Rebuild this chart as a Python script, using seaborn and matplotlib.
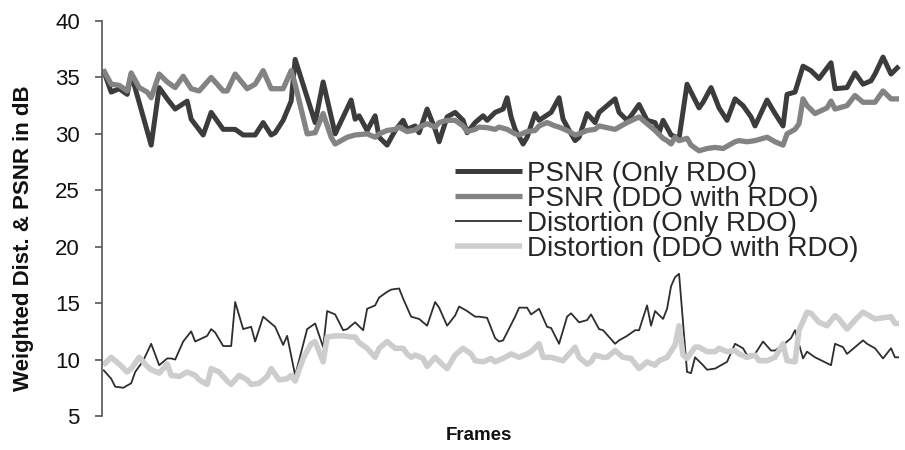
import matplotlib
matplotlib.use("Agg")
import matplotlib.pyplot as plt
import seaborn as sns

# ---------------- data (frame index, value) ----------------
frames_psnr_rdo = [0, 2, 4, 6, 7, 12, 14, 16, 18, 21, 22, 25, 27, 30, 33, 35, 38, 40, 42, 43,
                   45, 47, 48, 53, 55, 58, 62, 63, 64, 66, 68, 69, 71, 73, 75, 76, 78, 79, 81, 83,
                   84, 86, 88, 90, 91, 93, 95, 96, 98, 100, 101, 102, 103, 105, 106, 108, 109, 112, 114, 115,
                   117, 118, 119, 121, 123, 124, 128, 129, 131, 132, 134, 136, 138, 139, 140, 142, 144, 146, 149, 150,
                   152, 154, 156, 158, 160, 162, 163, 166, 168, 170, 171, 173, 175, 177, 179, 182, 183, 186, 188, 190,
                   192, 193, 195, 197, 199]
psnr_rdo = [35.7, 33.7, 34.0, 33.5, 35.3, 29.0, 34.1, 33.1, 32.2, 32.9, 31.3, 29.9, 31.9, 30.4, 30.4, 29.9, 29.9, 31.0, 29.9, 30.1,
            31.2, 32.9, 36.6, 31.0, 34.6, 30.0, 33.0, 31.3, 31.6, 30.3, 31.6, 29.7, 29.0, 30.3, 31.2, 30.4, 30.7, 30.1, 32.2, 30.4,
            29.3, 31.5, 31.9, 31.2, 30.1, 31.0, 31.6, 31.2, 31.9, 32.2, 33.2, 31.5, 30.4, 29.1, 29.7, 31.8, 31.2, 31.9, 33.2, 31.3,
            30.0, 29.4, 29.7, 31.8, 31.0, 31.9, 33.1, 31.9, 31.2, 31.6, 32.6, 31.2, 31.0, 30.1, 31.2, 29.9, 29.6, 34.4, 32.3, 32.8,
            34.1, 32.3, 31.2, 33.1, 32.5, 31.5, 30.7, 33.0, 31.8, 30.7, 33.5, 33.7, 36.0, 35.6, 34.9, 36.3, 34.0, 34.1, 35.4, 34.4,
            34.7, 35.3, 36.8, 35.3, 36.0]

frames_psnr_ddo = [0, 2, 4, 6, 7, 9, 11, 12, 14, 16, 18, 20, 22, 24, 27, 30, 31, 33, 36, 38,
                   40, 42, 45, 47, 48, 51, 53, 55, 57, 58, 61, 63, 66, 68, 69, 71, 73, 74, 76, 78,
                   79, 81, 83, 84, 86, 88, 90, 91, 93, 94, 96, 98, 99, 101, 103, 104, 106, 108, 109, 111,
                   113, 114, 116, 118, 119, 121, 123, 124, 128, 131, 134, 136, 138, 140, 141, 142, 143, 144, 146, 147,
                   149, 151, 153, 155, 158, 159, 161, 163, 166, 168, 170, 171, 173, 174, 175, 176, 178, 181, 182, 183,
                   186, 188, 190, 193, 195, 197, 199]
psnr_ddo = [35.7, 34.4, 34.3, 33.8, 35.4, 34.1, 33.7, 33.2, 35.3, 34.6, 34.1, 35.1, 34.0, 33.8, 35.0, 33.8, 33.8, 35.3, 34.0, 34.4,
            35.6, 34.0, 34.0, 35.6, 34.4, 30.0, 30.1, 31.8, 29.7, 29.1, 29.7, 29.9, 30.0, 29.7, 30.0, 30.3, 30.4, 30.6, 30.2, 30.35,
            30.6, 30.9, 30.6, 31.0, 31.2, 31.2, 30.7, 30.2, 30.4, 30.6, 30.55, 30.4, 30.6, 30.4, 30.0, 29.9, 30.2, 30.3, 30.7, 31.0,
            30.7, 30.6, 30.3, 29.9, 30.0, 30.3, 30.4, 30.7, 30.4, 31.0, 31.5, 30.9, 30.3, 29.6, 29.4, 29.1, 29.7, 29.4, 29.6, 29.0,
            28.5, 28.7, 28.8, 28.7, 29.3, 29.4, 29.3, 29.4, 29.7, 29.3, 29.0, 30.0, 30.4, 30.9, 33.1, 32.5, 31.8, 32.3, 32.9, 32.2,
            32.5, 33.4, 32.8, 32.8, 33.8, 33.1, 33.1]

frames_dist_rdo = [0, 2, 3, 5, 7, 8, 10, 12, 14, 16, 17, 18, 20, 22, 23, 26, 27, 28, 30, 32,
                   33, 35, 37, 38, 40, 42, 43, 45, 46, 48, 51, 53, 55, 56, 58, 60, 61, 63, 65, 66,
                   68, 69, 71, 72, 74, 75, 77, 79, 81, 83, 84, 86, 88, 89, 91, 93, 94, 96, 98, 99,
                   100, 101, 103, 104, 106, 107, 109, 111, 112, 114, 116, 117, 119, 121, 122, 124, 125, 128, 129, 131,
                   133, 134, 136, 137, 138, 140, 141, 142, 143, 144, 146, 147, 148, 150, 151, 153, 155, 156, 158, 160,
                   161, 163, 165, 167, 168, 170, 172, 173, 175, 176, 178, 182, 183, 185, 186, 188, 190, 191, 193, 195,
                   197, 198, 199]
dist_rdo = [9.1, 8.3, 7.6, 7.5, 7.9, 8.9, 9.9, 11.4, 9.5, 10.1, 10.1, 10.0, 11.6, 12.5, 11.6, 12.1, 12.7, 12.4, 11.2, 11.2,
            15.1, 12.7, 12.9, 11.6, 13.8, 13.2, 12.9, 11.3, 12.1, 8.6, 12.7, 13.2, 11.1, 14.3, 14.0, 12.6, 12.7, 13.3, 12.6, 14.5,
            14.8, 15.5, 16.0, 16.2, 16.3, 15.4, 13.8, 13.6, 13.0, 15.1, 14.6, 13.0, 13.9, 14.7, 14.3, 13.8, 13.8, 13.7, 11.9, 11.6,
            11.7, 12.4, 13.8, 14.6, 14.6, 14.0, 14.5, 12.9, 12.8, 11.4, 13.8, 14.1, 13.3, 13.5, 14.0, 12.7, 12.6, 11.4, 11.7, 12.1,
            12.6, 12.6, 14.8, 13.0, 14.3, 13.6, 14.5, 16.5, 17.3, 17.6, 8.9, 8.8, 10.2, 9.5, 9.1, 9.2, 9.6, 9.8, 11.4, 11.0,
            10.4, 10.5, 11.6, 10.8, 10.8, 11.3, 11.9, 12.6, 10.1, 10.7, 10.2, 9.5, 11.4, 11.1, 10.5, 11.1, 11.7, 11.4, 11.0, 10.1,
            11.0, 10.2, 10.2]

frames_dist_ddo = [0, 2, 4, 6, 7, 9, 11, 12, 14, 16, 17, 19, 21, 23, 24, 26, 27, 29, 31, 32,
                   34, 36, 37, 39, 41, 42, 44, 46, 47, 48, 50, 52, 53, 55, 56, 58, 60, 62, 63, 64,
                   66, 68, 69, 71, 73, 75, 76, 77, 78, 80, 81, 83, 85, 86, 88, 90, 92, 93, 95, 97,
                   98, 100, 102, 104, 106, 107, 109, 110, 112, 113, 115, 118, 119, 121, 122, 123, 125, 126, 128, 130,
                   132, 134, 136, 138, 139, 141, 143, 144, 145, 146, 148, 149, 151, 153, 154, 156, 158, 159, 161, 163,
                   164, 166, 168, 170, 171, 173, 174, 176, 177, 179, 181, 183, 184, 186, 188, 190, 192, 193, 197, 198,
                   199]
dist_ddo = [9.5, 10.2, 9.6, 8.9, 9.2, 10.2, 9.4, 9.1, 8.8, 9.6, 8.6, 8.5, 8.9, 8.6, 8.2, 7.8, 9.2, 8.9, 8.1, 7.8,
            8.6, 8.2, 7.8, 7.9, 8.5, 9.2, 8.2, 8.3, 8.6, 8.1, 10.1, 11.4, 11.6, 9.8, 12.0, 12.1, 12.1, 12.0, 12.0, 11.5,
            11.0, 10.2, 11.0, 11.6, 11.0, 11.0, 10.5, 10.2, 10.4, 10.1, 9.4, 10.2, 9.5, 9.2, 10.4, 11.0, 10.5, 9.9, 9.8, 10.1,
            9.8, 10.1, 10.5, 10.2, 10.5, 10.7, 11.4, 10.2, 10.2, 10.1, 9.9, 11.1, 10.2, 9.6, 9.8, 10.4, 10.2, 10.2, 10.8, 10.2,
            10.1, 9.2, 9.8, 9.5, 9.9, 10.2, 11.3, 13.0, 10.4, 10.1, 11.1, 11.1, 10.7, 10.7, 11.0, 10.7, 10.8, 10.5, 10.2, 10.4,
            9.9, 9.9, 10.2, 11.4, 9.9, 9.8, 12.6, 14.2, 14.1, 13.3, 13.0, 13.9, 13.6, 12.7, 13.5, 14.2, 13.8, 13.6, 13.8, 13.2,
            13.2]

series_labels = ["PSNR (Only RDO)", "PSNR (DDO with RDO)",
                 "Distortion (Only RDO)", "Distortion (DDO with RDO)"]
y_ticks = [5, 10, 15, 20, 25, 30, 35, 40]

# ---------------- style ----------------
sns.set_style("ticks")
plt.rcParams["font.family"] = ["Liberation Sans", "DejaVu Sans"]

fig = plt.figure(figsize=(9.05, 4.5), dpi=100)
ax = fig.add_axes([102 / 905, 34 / 450, 803 / 905, 395 / 450])

styles = [("#3c3c3c", 3.6), ("#838383", 3.8), ("#2e2e2e", 1.3), ("#cdcdcd", 4.0)]
data = [(frames_psnr_rdo, psnr_rdo), (frames_psnr_ddo, psnr_ddo),
        (frames_dist_rdo, dist_rdo), (frames_dist_ddo, dist_ddo)]

for (fr, vals), lab, (col, lw) in zip(data, series_labels, styles):
    sns.lineplot(x=fr, y=vals, ax=ax, color=col, linewidth=lw, label=lab,
                 solid_joinstyle="round", solid_capstyle="butt")

ax.set_xlim(-0.3, 200.5)
ax.set_ylim(5, 40)
ax.set_yticks(y_ticks)
ax.set_yticklabels([str(t) for t in y_ticks])

for s in ["top", "right", "bottom"]:
    ax.spines[s].set_visible(False)
ax.spines["left"].set_color("#555555")
ax.spines["left"].set_linewidth(1.2)
ax.tick_params(axis="y", length=5, width=1.2, color="#555555", labelsize=16, pad=11,
               labelcolor="#111111")
ax.tick_params(axis="x", bottom=False, labelbottom=False)

ax.set_ylabel("Weighted Dist. & PSNR in dB", fontsize=16, fontweight="bold", color="#111111")
ax.yaxis.set_label_coords(-0.085, 0.45)
ax.set_xlabel("Frames", fontsize=13.5, fontweight="bold", color="#111111")
ax.xaxis.set_label_coords(0.469, -0.028)

handles, labels = ax.get_legend_handles_labels()
ax.legend(handles, labels, loc="upper left",
          bbox_to_anchor=(455 / 905, 1 - 161 / 450), bbox_transform=fig.transFigure,
          frameon=False, fontsize=20, handlelength=2.4, handletextpad=0.2,
          labelspacing=-0.04, borderpad=0, borderaxespad=0)

fig.savefig("out.png", dpi=100)
